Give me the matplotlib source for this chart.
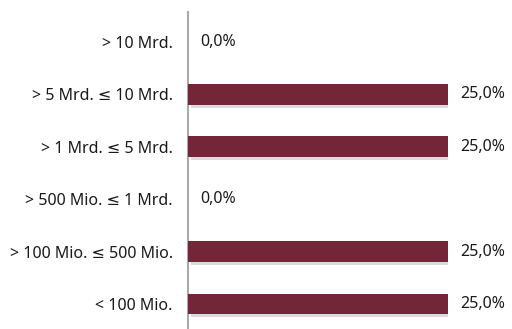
import matplotlib
matplotlib.use("Agg")
import matplotlib.pyplot as plt
import matplotlib.patheffects as pe

# categories from bottom to top
categories = ["< 100 Mio.", "> 100 Mio. \u2264 500 Mio.", "> 500 Mio. \u2264 1 Mrd.",
              "> 1 Mrd. \u2264 5 Mrd.", "> 5 Mrd. \u2264 10 Mrd.", "> 10 Mrd."]
values = [25.0, 25.0, 0.0, 25.0, 25.0, 0.0]

bar_color = "#722637"
plt.rcParams["font.family"] = ["Noto Sans", "DejaVu Sans"]

fig = plt.figure(figsize=(5.12, 3.29), dpi=100)
ax = fig.add_axes([0.367, 0.0, 0.508, 0.9635])

ypos = list(range(len(categories)))
bars = ax.barh(ypos, values, height=0.4, color=bar_color, zorder=3)
for b in bars:
    b.set_path_effects([pe.SimplePatchShadow(offset=(2, -2), shadow_rgbFace="#999999", alpha=0.35),
                        pe.Normal()])

for y, v in zip(ypos, values):
    label = "{:.1f}%".format(v).replace(".", ",")
    ax.annotate(label, xy=(v, y), xytext=(12, 0), textcoords="offset pixels",
                ha="left", va="center", fontsize=11.5, color="#1a1a1a")

ax.set_xlim(0, 25)
ax.set_ylim(-0.477, 5.573)
ax.set_yticks(ypos)
ax.set_yticklabels(categories, fontsize=11.5, color="#1a1a1a")
ax.tick_params(axis="y", length=0, pad=11)
ax.set_xticks([])
for side in ["top", "right", "bottom"]:
    ax.spines[side].set_visible(False)
ax.spines["left"].set_color("#aaaaaa")
ax.spines["left"].set_linewidth(1.5)
ax.patch.set_alpha(0)

fig.savefig("out.png", dpi=100)
